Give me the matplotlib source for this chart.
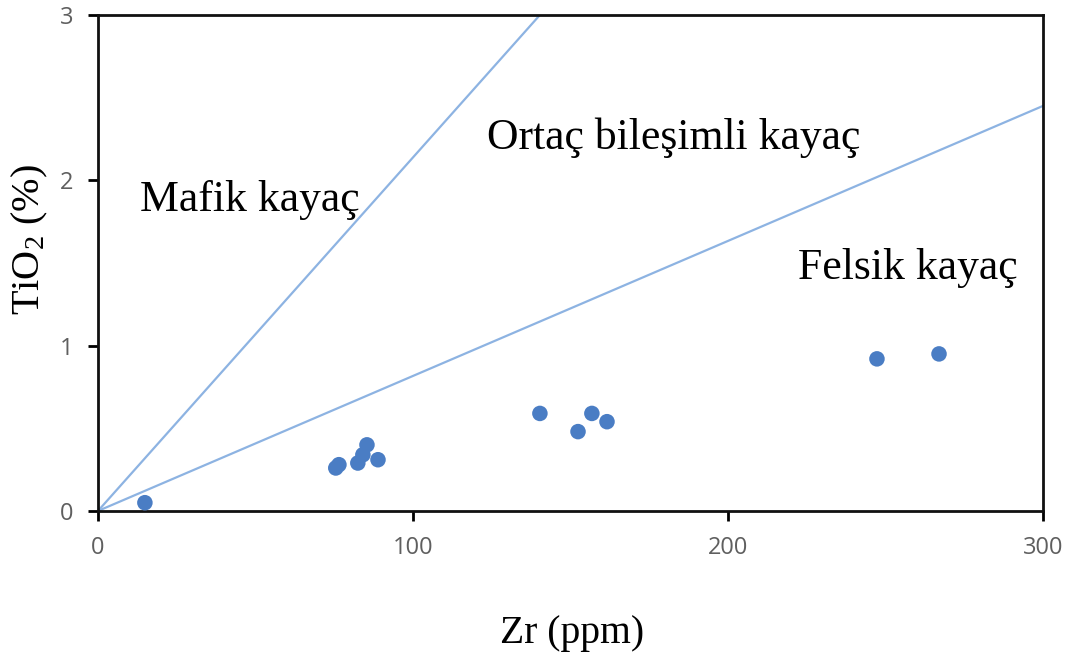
import matplotlib
matplotlib.use("Agg")
import matplotlib.pyplot as plt

# Data
zr = [14.9, 75.5, 76.5, 82.5, 84.1, 85.4, 88.9, 140.3, 152.4, 156.8, 161.6, 247.3, 267.0]
tio2 = [0.05, 0.26, 0.28, 0.29, 0.34, 0.40, 0.31, 0.59, 0.48, 0.59, 0.54, 0.92, 0.95]

mafic_line_x = [0, 140.3]
mafic_line_y = [0, 3.0]
felsic_line_x = [0, 300]
felsic_line_y = [0, 2.45]

region_labels = ["Mafik kayaç", "Ortaç bileşimli kayaç", "Felsik kayaç"]
region_x = [13.3, 123.5, 222.2]
region_y = [1.88, 2.26, 1.47]

x_ticks = [0, 100, 200, 300]
y_ticks = [0, 1, 2, 3]

plt.rcParams['mathtext.fontset'] = 'custom'
plt.rcParams['mathtext.rm'] = 'Liberation Serif'
plt.rcParams['mathtext.it'] = 'Liberation Serif:italic'

fig = plt.figure(figsize=(10.74, 6.63), dpi=100)
ax = fig.add_axes([0.0912, 0.2293, 0.8799, 0.7481])

line_color = '#8DB3E2'
ax.plot(mafic_line_x, mafic_line_y, color=line_color, lw=1.6, zorder=2)
ax.plot(felsic_line_x, felsic_line_y, color=line_color, lw=1.6, zorder=2)
ax.scatter(zr, tio2, s=125, color='#4A7DC4', edgecolors='none', zorder=3)

for t, x, y in zip(region_labels, region_x, region_y):
    ax.text(x, y, t, fontsize=31.5, family='Liberation Serif', va='center', ha='left', color='black')

ax.set_xlim(0, 300)
ax.set_ylim(0, 3)
ax.set_xticks(x_ticks)
ax.set_yticks(y_ticks)
ax.tick_params(direction='out', length=7, width=2, color='black', labelcolor='#5f5f5f',
               labelsize=17, pad=11)
for lbl in ax.get_xticklabels() + ax.get_yticklabels():
    lbl.set_family('Open Sans')
for sp in ax.spines.values():
    sp.set_linewidth(2)
    sp.set_color('#111111')

ax.set_xlabel('Zr (ppm)', fontsize=28.5, family='Liberation Serif')
ax.xaxis.set_label_coords(0.502, -0.21)
ax.set_ylabel('TiO$_\\mathrm{2}$ (%)', fontsize=29, family='Liberation Serif')
ax.yaxis.set_label_coords(-0.051, 0.548)

fig.savefig('out.png', dpi=100, facecolor='white')
